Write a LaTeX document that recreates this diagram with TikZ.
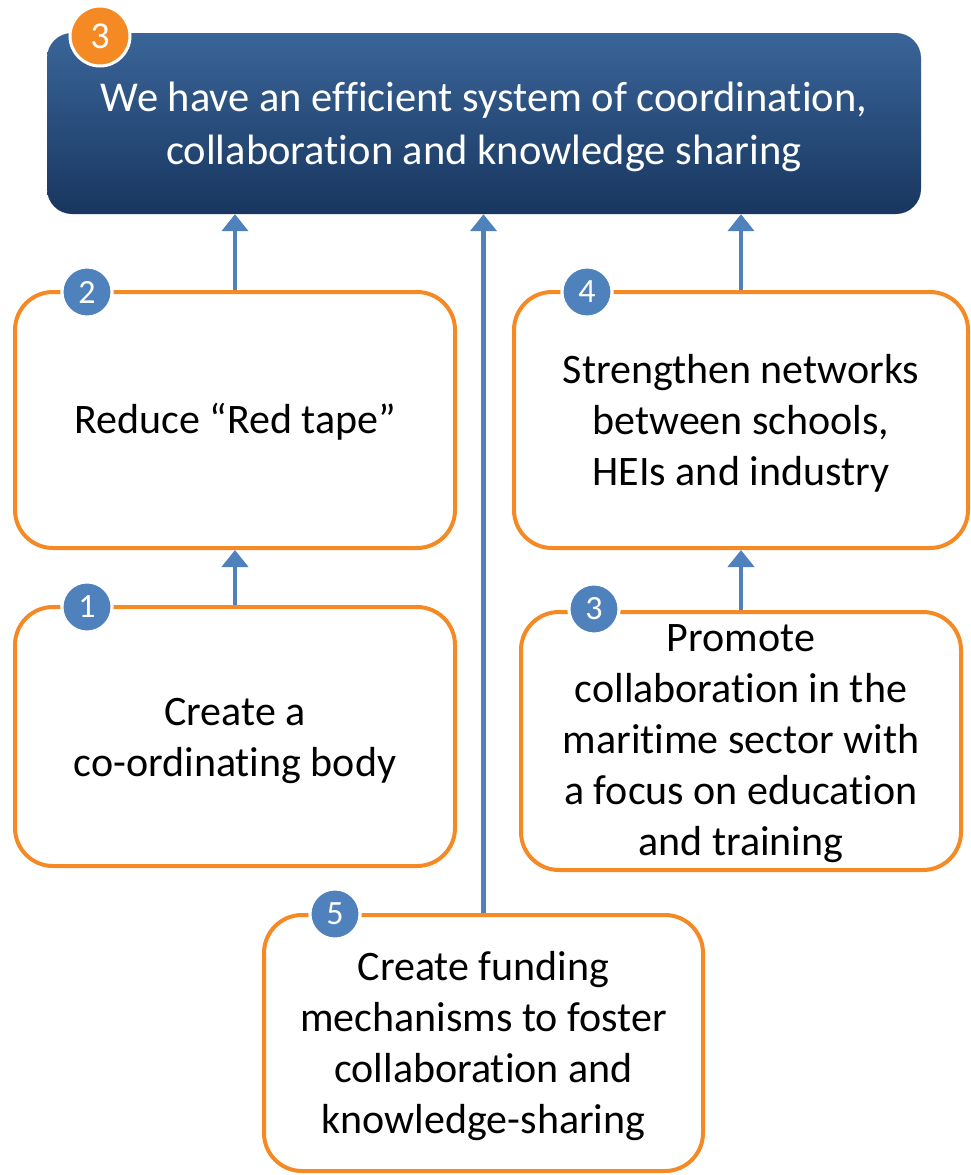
\documentclass[tikz,border=0pt]{standalone}
\usepackage{fontspec}
\setmainfont{Carlito}[Ligatures={NoCommon}]
\usetikzlibrary{arrows.meta}
\definecolor{orangeb}{HTML}{F58A25}
\definecolor{blueb}{HTML}{4F81BD}
\definecolor{topA}{HTML}{3A6599}
\definecolor{topB}{HTML}{18365F}
\begin{document}
\begin{tikzpicture}[x=1pt,y=-1pt,
  box/.style={draw=orangeb, line width=4pt, rounded corners=38pt, fill=white, inner sep=0pt},
  txt/.style={align=center, font=\fontsize{42}{51}\selectfont, text=black},
  badge/.style={circle, fill=blueb, draw=white, line width=3pt, minimum size=50pt, inner sep=0pt, text=white, font=\fontsize{34}{36}\selectfont},
  arr/.style={draw=blueb, line width=4.5pt, -{Triangle[width=26pt,length=17pt]}}]
\useasboundingbox (0,0) rectangle (971,1175);
\node[rounded corners=25pt, top color=topA, bottom color=topB, minimum width=874pt, minimum height=181pt, inner sep=0pt] (top) at (484,123.5) {};
\node[txt, text=white, font=\fontsize{42.5}{53}\selectfont] (toptxt) at (484,127) {We have an efficient system of coordination,\\collaboration and knowledge sharing};
\node[circle, fill=orangeb, draw=white, line width=3pt, minimum size=60pt, inner sep=0pt, text=white, font=\fontsize{38}{40}\selectfont] (bt) at (100,36) {3};

\node[box, minimum width=440pt, minimum height=256pt] (b2) at (235,420) {};
\node[txt] (t2) at (235,422) {Reduce “Red tape”};
\node[badge] (c2) at (87,292) {2};

\node[box, minimum width=440pt, minimum height=259pt] (b1) at (235,736.5) {};
\node[txt] (t1) at (235,741) {Create a\\co-ordinating body};
\node[badge] (c1) at (87,607) {1};

\node[box, minimum width=454pt, minimum height=256pt] (b4) at (741,420) {};
\node[txt] (t4) at (741,423) {Strengthen networks\\between schools,\\HEIs and industry};
\node[badge] (c4) at (587,292) {4};

\node[box, minimum width=440pt, minimum height=258pt] (b3) at (741,741) {};
\node[txt] (t3) at (741,744) {Promote\\collaboration in the\\maritime sector with\\a focus on education\\and training};
\node[badge] (c3) at (594,609) {3};

\node[box, minimum width=439pt, minimum height=256pt] (b5) at (483.5,1043) {};
\node[txt] (t5) at (483.5,1046) {Create funding\\mechanisms to foster\\collaboration and\\knowledge-sharing};
\node[badge] (c5) at (335,914) {5};

\draw[arr] (b1.north) -- (b2.south);
\draw[arr] (b2.north) -- (b2.north |- top.south);
\draw[arr] (b3.north) -- (b4.south);
\draw[arr] (b4.north) -- (b4.north |- top.south);
\draw[arr] (b5.north) -- (b5.north |- top.south);
\node[badge] at (c2) {2};
\node[badge] at (c1) {1};
\node[badge] at (c4) {4};
\node[badge] at (c3) {3};
\node[badge] at (c5) {5};
\end{tikzpicture}
\end{document}
